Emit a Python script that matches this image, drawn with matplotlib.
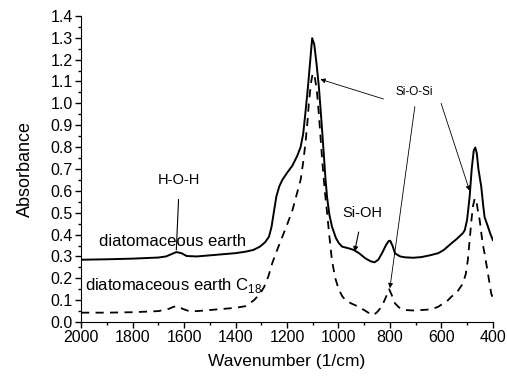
#!/usr/bin/env python3

from matplotlib import pyplot as plt
from matplotlib.ticker import MultipleLocator
import numpy as np

plt.rcParams['font.family'] = ['Liberation Sans', 'DejaVu Sans']
plt.rcParams['mathtext.fontset'] = 'custom'
plt.rcParams['mathtext.rm'] = 'Liberation Sans'

# diatomaceous earth (solid)
wn_de = [2000, 1900, 1800, 1700, 1670, 1650, 1630, 1610, 1590, 1550, 1500, 1450,
         1400, 1360, 1330, 1305, 1285, 1270, 1260, 1250, 1241, 1230, 1218, 1198, 1179,
         1160, 1147, 1137, 1128, 1118, 1110, 1102, 1094, 1085, 1076, 1066, 1057,
         1050, 1044, 1035, 1025, 1010, 999, 986, 960, 941, 920, 896, 875, 860,
         845, 831, 815, 805, 799, 790, 780, 760, 741, 710, 678, 645, 612, 590,
         561, 540, 516, 509, 500, 490, 482, 474, 468, 462, 456, 445, 438, 432,
         420, 410, 400]
ab_de = [0.285, 0.287, 0.290, 0.295, 0.300, 0.310, 0.320, 0.315, 0.302, 0.300, 0.305, 0.310,
         0.315, 0.322, 0.330, 0.345, 0.365, 0.390, 0.435, 0.510, 0.575, 0.620, 0.650, 0.685, 0.715,
         0.760, 0.800, 0.860, 0.960, 1.080, 1.190, 1.298, 1.270, 1.180, 1.076, 0.920, 0.770,
         0.650, 0.570, 0.490, 0.436, 0.385, 0.362, 0.345, 0.337, 0.330, 0.315, 0.292, 0.278, 0.273,
         0.285, 0.314, 0.352, 0.370, 0.372, 0.350, 0.314, 0.300, 0.296, 0.294, 0.297, 0.305, 0.315, 0.330,
         0.360, 0.380, 0.407, 0.420, 0.467, 0.573, 0.700, 0.785, 0.798, 0.770, 0.700, 0.620, 0.540, 0.480,
         0.440, 0.405, 0.375]

# diatomaceous earth C18 (dashed)
wn_c18 = [2000, 1900, 1800, 1700, 1660, 1640, 1625, 1605, 1580, 1550, 1500, 1450,
          1400, 1360, 1328, 1305, 1289, 1272, 1257, 1238, 1218, 1198, 1179, 1163,
          1147, 1137, 1128, 1120, 1115, 1107, 1100, 1092, 1084, 1076, 1063, 1053,
          1044, 1035, 1025, 1012, 999, 986, 973, 950, 922, 900, 880, 864, 850,
          832, 815, 803, 795, 780, 760, 741, 710, 678, 639, 612, 574, 561, 540,
          516, 505, 497, 488, 483, 477, 470, 463, 457, 451, 444, 438, 432, 420,
          406, 400]
ab_c18 = [0.043, 0.043, 0.045, 0.050, 0.060, 0.070, 0.073, 0.060, 0.050, 0.050, 0.055, 0.060,
          0.065, 0.073, 0.100, 0.130, 0.160, 0.210, 0.270, 0.330, 0.390, 0.450, 0.510, 0.580,
          0.650, 0.730, 0.820, 0.920, 1.000, 1.090, 1.138, 1.120, 1.060, 0.950, 0.740, 0.600,
          0.500, 0.390, 0.280, 0.200, 0.150, 0.120, 0.100, 0.085, 0.070, 0.055, 0.040, 0.032, 0.045,
          0.070, 0.115, 0.150, 0.130, 0.085, 0.062, 0.055, 0.053, 0.055, 0.058, 0.070, 0.100, 0.116, 0.135,
          0.177, 0.220, 0.284, 0.400, 0.467, 0.530, 0.566, 0.550, 0.500, 0.467, 0.400, 0.350, 0.314, 0.230,
          0.130, 0.110]

fig = plt.figure(figsize=(5.07, 3.78), dpi=100)
ax = fig.add_axes([0.16, 0.148, 0.812, 0.81])

ax.plot(wn_de, ab_de, color='black', lw=1.4)
ax.plot(wn_c18, ab_c18, color='black', lw=1.3, dashes=(4.5, 3.5))

ax.set_xlim(2000, 400)
ax.set_ylim(0, 1.4)
ax.xaxis.set_major_locator(MultipleLocator(200))
ax.xaxis.set_minor_locator(MultipleLocator(100))
ax.yaxis.set_major_locator(MultipleLocator(0.1))
ax.yaxis.set_minor_locator(MultipleLocator(0.05))
ax.yaxis.set_major_formatter(plt.FuncFormatter(lambda v, p: '%.1f' % v))
ax.spines['top'].set_visible(False)
ax.spines['right'].set_visible(False)
ax.tick_params(which='major', direction='out', length=4, width=1, labelsize=11.5, pad=2)
ax.tick_params(which='minor', direction='out', length=2.5, width=1)
ax.set_xlabel('Wavenumber (1/cm)', fontsize=12.5, labelpad=6)
ax.set_ylabel('Absorbance', fontsize=13, labelpad=12)

ax.text(1932, 0.335, 'diatomaceous earth', fontsize=12, va='bottom', ha='left')
ax.text(1985, 0.125, 'diatomaceous earth C$_{18}$', fontsize=12, va='bottom', ha='left')

ax.annotate('H-O-H', xy=(1630, 0.33), xytext=(1618, 0.65), fontsize=10.5,
            ha='center', va='center',
            arrowprops=dict(arrowstyle='-', color='black', lw=0.8, shrinkA=7, shrinkB=0))
ax.annotate('Si-OH', xy=(937, 0.322), xytext=(906, 0.50), fontsize=10.5,
            ha='center', va='center',
            arrowprops=dict(arrowstyle='-|>', color='black', lw=0.8, mutation_scale=7,
                            shrinkA=7, shrinkB=0))

ax.text(705, 1.05, 'Si-O-Si', fontsize=8.5, ha='center', va='center')
arr = dict(arrowstyle='-|>', color='black', lw=0.6, mutation_scale=7, shrinkA=0, shrinkB=0)
ax.annotate('', xy=(1070, 1.11), xytext=(825, 1.02), arrowprops=arr)
ax.annotate('', xy=(800, 0.155), xytext=(703, 0.985), arrowprops=arr)
ax.annotate('', xy=(490, 0.60), xytext=(601, 1.0), arrowprops=arr)

fig.savefig('out.png')
